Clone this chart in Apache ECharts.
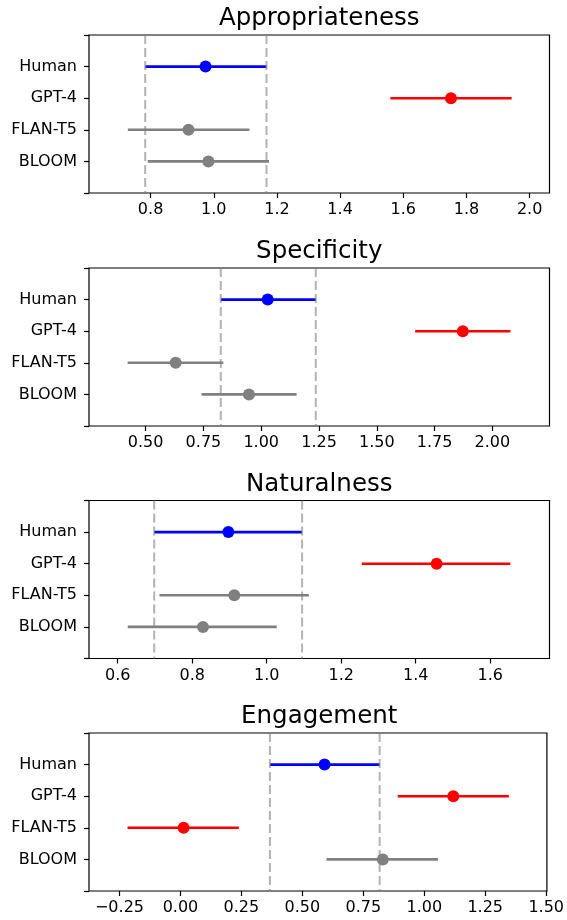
<!DOCTYPE html>
<html>
<head>
<meta charset="utf-8">
<script src="https://cdn.jsdelivr.net/npm/echarts@6/dist/echarts.min.js"></script>
<style>
  html, body { margin: 0; padding: 0; background: #fff; }
  #chart { width: 567px; height: 920px; }
</style>
</head>
<body>
<div id="chart"></div>
<script>
// Models, top to bottom
const models = ['Human', 'GPT-4', 'FLAN-T5', 'BLOOM'];

// Panel titles
const metrics = ['Appropriateness', 'Specificity', 'Naturalness', 'Engagement'];

// Means and interval bounds per panel, in model order
const approMean = [0.974, 1.751, 0.920, 0.983];
const approLow  = [0.783, 1.559, 0.728, 0.791];
const approHigh = [1.167, 1.943, 1.113, 1.175];

const specMean = [1.028, 1.872, 0.630, 0.947];
const specLow  = [0.825, 1.666, 0.422, 0.742];
const specHigh = [1.236, 2.078, 0.836, 1.153];

const natMean = [0.897, 1.456, 0.913, 0.829];
const natLow  = [0.698, 1.255, 0.712, 0.627];
const natHigh = [1.095, 1.654, 1.113, 1.027];

const engMean = [0.591, 1.119, 0.013, 0.830];
const engLow  = [0.367, 0.891, -0.217, 0.599];
const engHigh = [0.817, 1.347, 0.240, 1.056];

// 'ref' = human baseline, 'sig' = significantly different, 'ns' = not significant
const approKind = ['ref', 'sig', 'ns', 'ns'];
const specKind  = ['ref', 'sig', 'ns', 'ns'];
const natKind   = ['ref', 'sig', 'ns', 'ns'];
const engKind   = ['ref', 'sig', 'sig', 'ns'];

// x axis limits and tick labels
const approRange = [0.605, 2.063];
const specRange  = [0.255, 2.247];
const natRange   = [0.523, 1.759];
const engRange   = [-0.375, 1.503];

const approTicks = [0.8, 1.0, 1.2, 1.4, 1.6, 1.8, 2.0];
const specTicks  = [0.5, 0.75, 1.0, 1.25, 1.5, 1.75, 2.0];
const natTicks   = [0.6, 0.8, 1.0, 1.2, 1.4, 1.6];
const engTicks   = [-0.25, 0, 0.25, 0.5, 0.75, 1.0, 1.25, 1.5];

const panels = [
    { mean: approMean, low: approLow, high: approHigh, kind: approKind, range: approRange, ticks: approTicks, digits: 1 },
    { mean: specMean,  low: specLow,  high: specHigh,  kind: specKind,  range: specRange,  ticks: specTicks,  digits: 2 },
    { mean: natMean,   low: natLow,   high: natHigh,   kind: natKind,   range: natRange,   ticks: natTicks,   digits: 1 },
    { mean: engMean,   low: engLow,   high: engHigh,   kind: engKind,   range: engRange,   ticks: engTicks,   digits: 2 }
];

const colors = { ref: '#0000ff', sig: '#ff0000', ns: '#808080' };
const FONT = "'DejaVu Sans', sans-serif";

// layout
const gridLeft = 89;
const gridRight = 17.5;
const gridTops = [35, 268, 500.5, 733];
const gridHeight = 158;
const titleX = gridLeft + (567 - gridLeft - gridRight) / 2;

const chart = echarts.init(document.getElementById('chart'), null, { renderer: 'canvas' });

const grids = [], xAxes = [], yAxes = [], series = [], graphics = [];

panels.forEach((p, i) => {
    grids.push({
        left: gridLeft, right: gridRight, top: gridTops[i], height: gridHeight,
        show: true, borderColor: '#000', borderWidth: 1.2, backgroundColor: 'transparent'
    });

    xAxes.push({
        type: 'value', gridIndex: i, position: 'bottom',
        min: p.range[0], max: p.range[1],
        axisLine: { show: false, onZero: false },
        splitLine: { show: false },
        axisTick: { show: true, length: 5, lineStyle: { color: '#000', width: 1.2 }, customValues: p.ticks },
        axisLabel: {
            customValues: p.ticks,
            margin: 9, color: '#000', fontSize: 16, fontFamily: FONT,
            formatter: v => (v < 0 ? '\u2212' : '') + Math.abs(v).toFixed(p.digits)
        }
    });

    yAxes.push({
        type: 'value', gridIndex: i, position: 'left',
        min: 0, max: 5, interval: 1, inverse: true,
        axisLine: { show: false, onZero: false },
        splitLine: { show: false },
        axisTick: { show: true, length: 5, lineStyle: { color: '#000', width: 1.2 } },
        axisLabel: {
            margin: 12, color: '#000', fontSize: 16, fontFamily: FONT,
            formatter: v => models[v - 1] || ''
        }
    });

    // error bars with mean dots
    series.push({
        type: 'custom', xAxisIndex: i, yAxisIndex: i, z: 3,
        data: models.map((m, k) => [p.mean[k], k + 1, p.low[k], p.high[k]]),
        encode: { x: [0, 2, 3], y: 1 },
        renderItem: function (params, api) {
            const y = api.value(1);
            const a = api.coord([api.value(2), y]);
            const b = api.coord([api.value(3), y]);
            const c = api.coord([api.value(0), y]);
            const col = colors[p.kind[params.dataIndex]];
            return {
                type: 'group',
                children: [
                    { type: 'line', shape: { x1: a[0], y1: a[1], x2: b[0], y2: b[1] },
                      style: { stroke: col, lineWidth: 2.6 } },
                    { type: 'circle', shape: { cx: c[0], cy: c[1], r: 6 },
                      style: { fill: col } }
                ]
            };
        }
    });

    // dashed lines at the human interval bounds
    [p.low[0], p.high[0]].forEach(x => {
        series.push({
            type: 'line', xAxisIndex: i, yAxisIndex: i, z: 4,
            data: [[x, 0], [x, 5]],
            symbol: 'none', silent: true,
            lineStyle: { color: 'rgba(128,128,128,0.6)', width: 2, type: [9, 4] }
        });
    });

    graphics.push({
        type: 'text', x: titleX, y: gridTops[i] - 16,
        style: {
            text: metrics[i], fill: '#000',
            fontSize: 24.5, fontFamily: FONT,
            align: 'center', verticalAlign: 'middle'
        }
    });
});

chart.setOption({
    animation: false,
    backgroundColor: '#fff',
    textStyle: { fontFamily: FONT },
    grid: grids,
    xAxis: xAxes,
    yAxis: yAxes,
    series: series,
    graphic: graphics
});
</script>
</body>
</html>
